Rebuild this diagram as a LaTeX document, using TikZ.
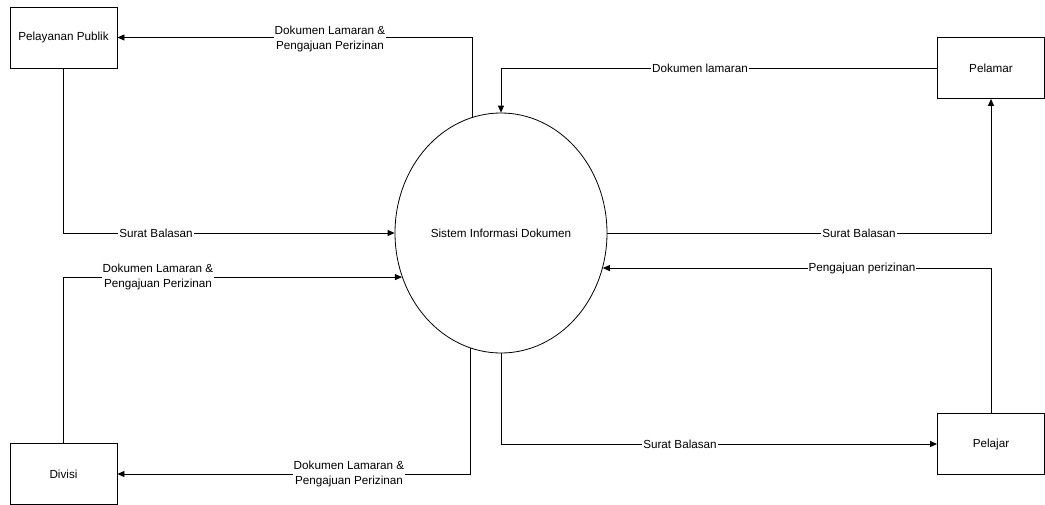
\documentclass[tikz,border=0pt]{standalone}
\usepackage{fontspec}
\setmainfont{Liberation Sans}
\usetikzlibrary{shapes.geometric,arrows.meta}
\begin{document}
\begin{tikzpicture}[x=1pt,y=-1pt,
  every node/.style={font=\fontsize{11.7pt}{15pt}\selectfont},
  entity/.style={draw,line width=0.8pt,minimum width=107pt,minimum height=61pt,inner sep=0pt},
  process/.style={ellipse,draw,line width=0.8pt,minimum width=212pt,minimum height=240pt,inner sep=0pt},
  flow/.style={line width=0.8pt,-{Triangle[length=7pt,width=6pt]}},
  lbl/.style={fill=white,inner sep=1pt,align=center}]
\useasboundingbox (0,0) rectangle (1045,504);

% external entities and the central process
\node[entity] (pp) at (63.5,37.5) {Pelayanan Publik};
\node[entity] (dv) at (63.5,474) {Divisi};
\node[entity] (pm) at (991,68) {Pelamar};
\node[entity] (pj) at (991,444) {Pelajar};
\node[process] (e) at (501,233) {Sistem Informasi Dokumen};

% data flows
\draw[flow] (e.104) |- (pp.east);
\draw[flow] (pm.west) -| (e.north);
\draw[flow] (pp.south) |- (e.west);
\draw[flow] (e.east) -| (pm.south);
\draw[flow] (dv.north) |- (e.204);
\draw[flow] (pj.north) |- (e.341);
\draw[flow] (e.255.4) |- (dv.east);
\draw[flow] (e.south) |- (pj.west);

% flow labels
\node[lbl] (l1) at (330,39) {Dokumen Lamaran \&\\Pengajuan Perizinan};
\node[lbl] (l2) at (700,68) {Dokumen lamaran};
\node[lbl] (l3) at (156,233) {Surat Balasan};
\node[lbl] (l4) at (859,233) {Surat Balasan};
\node[lbl] (l5) at (158,277) {Dokumen Lamaran \&\\Pengajuan Perizinan};
\node[lbl] (l6) at (862,268) {Pengajuan perizinan};
\node[lbl] (l7) at (349,474) {Dokumen Lamaran \&\\Pengajuan Perizinan};
\node[lbl] (l8) at (680,444) {Surat Balasan};
\end{tikzpicture}
\end{document}
